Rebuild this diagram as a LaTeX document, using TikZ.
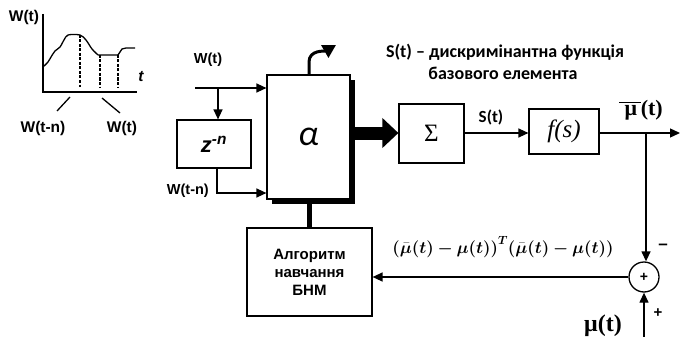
\RequirePackage{fix-cm}
\documentclass[tikz,border=0pt]{standalone}
\usepackage{amsmath,bm}
\usepackage{fontspec}
\setmainfont{Liberation Sans}
\newfontfamily\carl{Carlito}
\newfontfamily\lserif{Liberation Serif}
\usetikzlibrary{arrows.meta,calc}
\tikzset{
  blk/.style={draw,line width=1.2pt,fill=white,inner sep=0pt},
  lbl/.style={font=\fontsize{14.5}{16}\selectfont\bfseries,inner sep=0pt},
  glbl/.style={font=\fontsize{15.5}{17}\selectfont\bfseries,inner sep=0pt},
  cyr/.style={font=\carl\fontsize{18}{20}\selectfont\bfseries,inner sep=0pt},
  con/.style={line width=1.3pt},
  arr/.style={con,-{Triangle[length=10pt,width=9pt]}},
}
\begin{document}
\begin{tikzpicture}[x=1pt,y=-1pt]
\useasboundingbox (0,0) rectangle (680,337);
% --- small graph ---
\coordinate (ax0) at (43,92);
\coordinate (axy) at (43,14);
\coordinate (axx) at (137,92);
\draw[line width=1.3pt] (axy) -- (ax0) -- (axx);
\draw[line width=1.3pt] plot[smooth,tension=0.5] coordinates {(43,67) (48,62) (51,57) (55,51) (60,47) (64,40) (68,35) (80,35) (86,40) (92,49) (98,55)};
\draw[line width=1.3pt] (98,55) -- (118,55) -- (122,49) -- (126,48) -- (135,48);
\draw[line width=1.2pt,dash pattern=on 3pt off 1.5pt] (80,35) -- (80,87);
\draw[line width=1.2pt,dash pattern=on 3pt off 1.5pt] (100,55) -- (100,87);
\draw[line width=1.2pt,dash pattern=on 3pt off 1.5pt] (118,55) -- (118,87);
\coordinate (s1a) at (70,97);
\coordinate (s1b) at (57,111);
\coordinate (s2a) at (102,98);
\coordinate (s2b) at (120,113);
\draw[line width=1.3pt] (s1a) -- (s1b);
\draw[line width=1.3pt] (s2a) -- (s2b);
\node[glbl] (gw) at (24,17) {W(t)};
\node[glbl,font=\fontsize{15.5}{17}\selectfont\bfseries\itshape] (gt) at (141,77) {t};
\node[glbl] (gwn) at (43,128) {W(t-n)};
\node[glbl] (gwt) at (122,128) {W(t)};
% --- header text ---
\node[cyr] (h1) at (505,52) {S(t) – дискримінантна функція};
\node[cyr] (h2) at (503,73) {базового елемента};
% --- blocks ---
\fill (272,80) rectangle (355,204);
\node[blk,minimum width=83pt,minimum height=124pt] (alpha) at (308.5,137) {\fontsize{36}{36}\selectfont\carl\itshape α};
\node[blk,minimum width=74pt,minimum height=48pt] (z) at (214,144) {\fontsize{22}{22}\selectfont\bfseries\itshape z\textsuperscript{-n}};
\node[blk,minimum width=65pt,minimum height=59pt] (sig) at (431.5,133.5) {\fontsize{25}{25}\selectfont\lserif Σ};
\node[blk,minimum width=70pt,minimum height=45pt] (f) at (564,131.5) {\fontsize{25}{25}\selectfont\lserif\itshape f(s)};
\node[blk,minimum width=125pt,minimum height=88pt,align=center,font=\fontsize{15}{18}\selectfont\bfseries] (alg) at (309.5,272) {Алгоритм\\навчання\\БНМ};
\node[draw,circle,line width=1.3pt,minimum size=30pt,inner sep=0pt,fill=white] (sum) at (644,277) {\fontsize{14}{14}\selectfont\bfseries +};
% --- inputs ---
\coordinate (win) at (195,88);
\coordinate (wbr) at (218,88);
\draw[arr] (win) -- (alpha.west |- win);
\draw[arr] (wbr) -- (wbr |- z.north);
\coordinate (zo) at (217,193);
\draw[arr] (z.south -| zo) -- (zo) -- (alpha.west |- zo);
\node[lbl] (wl) at (208,60) {W(t)};
\node[lbl,anchor=east] (wnl) at (209,191) {W(t-n)};
% --- alpha output up ---
\coordinate (up1) at (309,62);
\coordinate (up2) at (336,45);
\draw[line width=3pt,-{Triangle[length=13pt,width=14pt]}] (alpha.north -| up1) -- (up1) to[out=90,in=210] (up2);
% --- thick arrow ---
\coordinate (ta) at (355,133);
\draw[line width=13pt,-{Triangle[length=16pt,width=29pt]}] (ta) -- (sig.west |- ta);
% --- sigma to f ---
\draw[arr] (sig.east |- 0,133) -- (f.west |- 0,133);
\node[font=\carl\fontsize{17}{19}\selectfont\bfseries,inner sep=0pt] (stl) at (491,117) {S(t)};
% --- f output ---
\coordinate (fo) at (599,133);
\coordinate (br) at (646,133);
\coordinate (oend) at (680,133);
\draw[arr] (fo) -- (oend);
\draw[arr] (br) -- (br |- sum.north);
\node[inner sep=0pt] (mub) at (641,110) {\fontsize{22}{22}\selectfont$\overline{\hbox{\lserif\bfseries\ μ\,}}$\lserif\bfseries(t)};
% --- feedback ---
\draw[arr] (sum.west) -- (alg.east |- sum.west);
\node[inner sep=0pt] (form) at (503,247) {\fontsize{17}{19}\selectfont$\bm{(\bar{\mu}(t)-\mu(t))^{T}(\bar{\mu}(t)-\mu(t))}$};
\node[lbl,font=\fontsize{17}{17}\selectfont\bfseries] (minus) at (663,247) {–};
\node[lbl,font=\fontsize{15}{15}\selectfont\bfseries] (plus) at (658,313) {+};
\coordinate (muin) at (644,337);
\draw[arr] (muin) -- (sum.south);
\node[inner sep=0pt] (mul) at (603,326) {\fontsize{24}{24}\selectfont\lserif\bfseries μ(t)};
% --- alpha to algorithm ---
\draw[line width=5pt] (309,204) -- (alg.north -| 309,0);
\end{tikzpicture}
\end{document}
